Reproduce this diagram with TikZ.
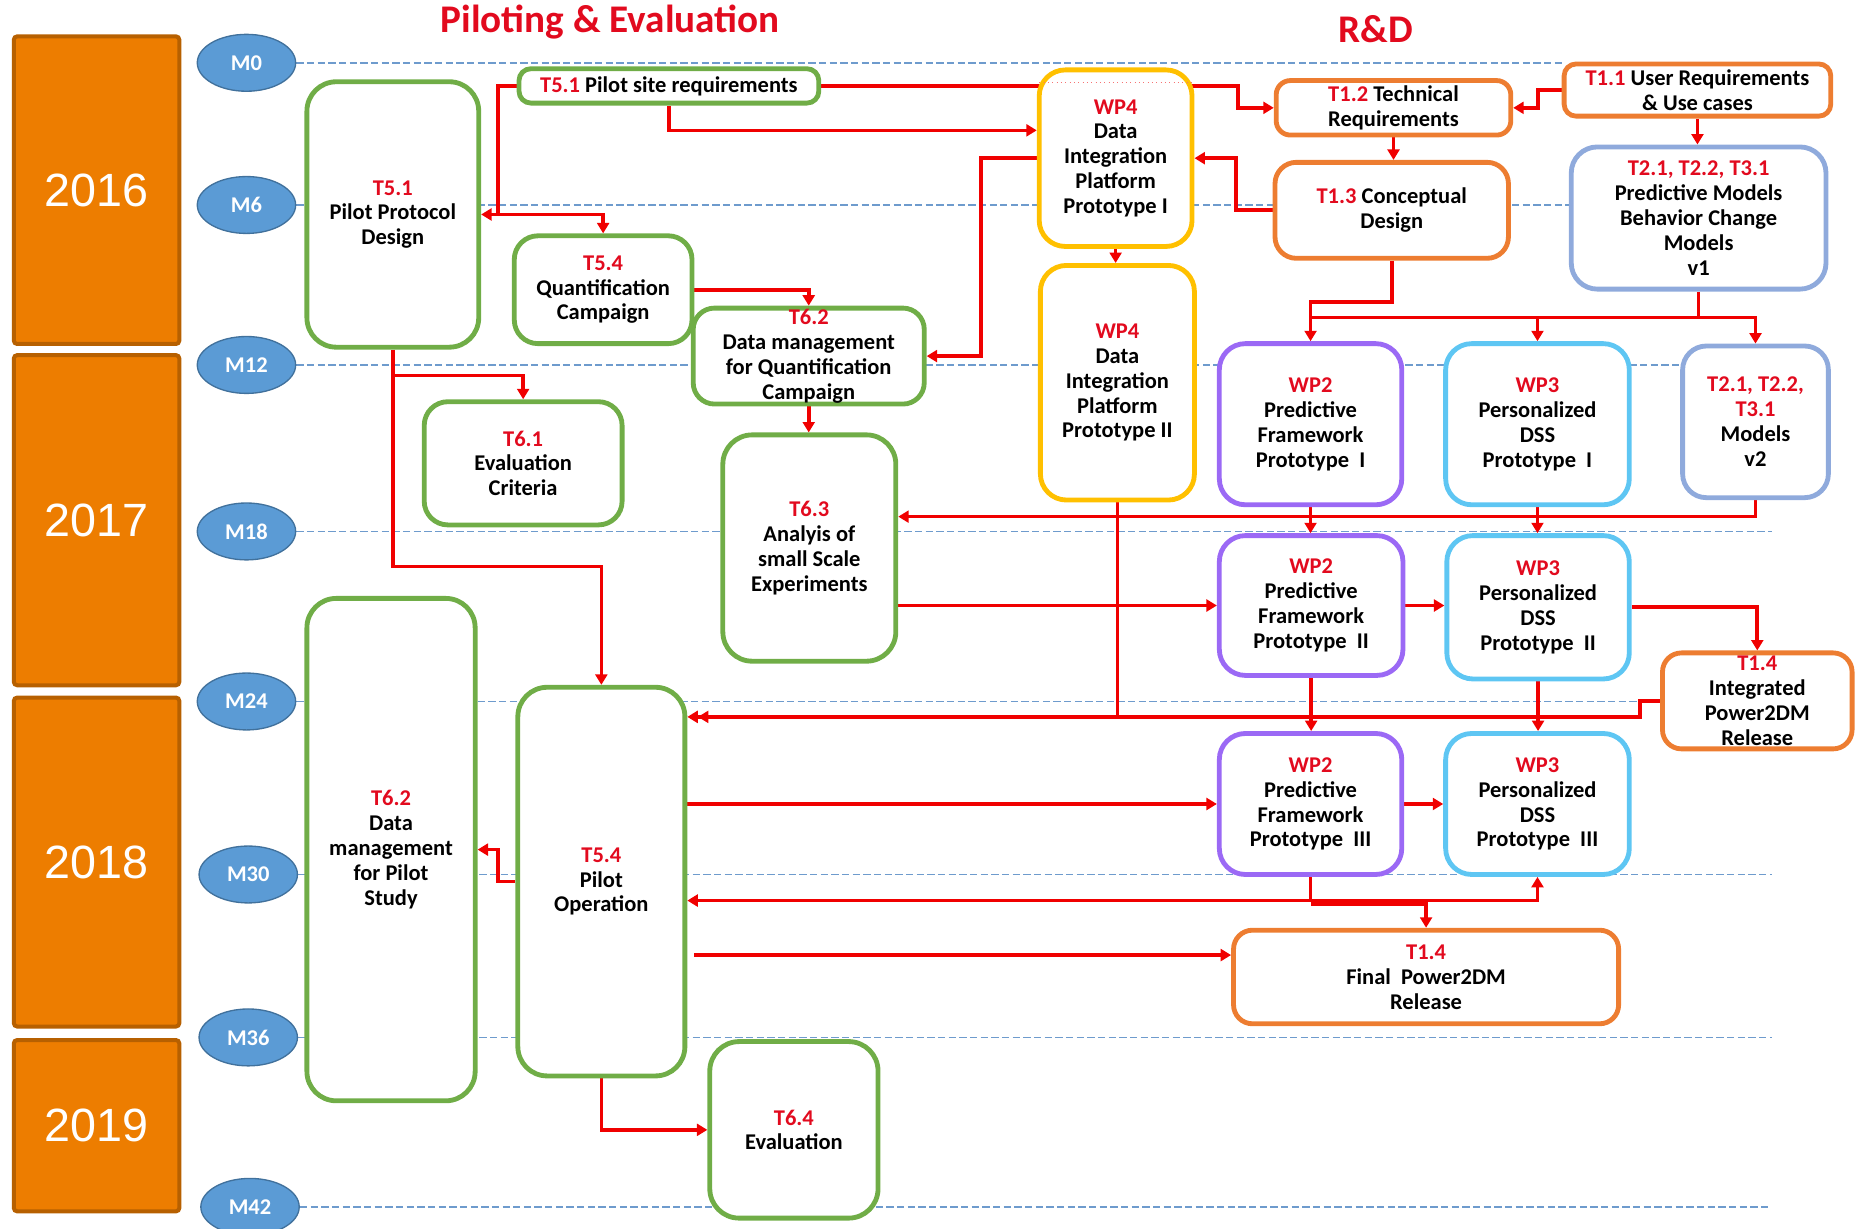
\documentclass[tikz,border=0pt]{standalone}
\usepackage{fontspec}
\setmainfont{Carlito}
\newfontfamily\yearfont{Liberation Sans}
\usetikzlibrary{arrows.meta,shapes.geometric}

\definecolor{tred}{RGB}{226,10,30}
\definecolor{lnred}{RGB}{240,0,0}
\definecolor{cgreen}{RGB}{112,173,71}
\definecolor{corange}{RGB}{237,125,49}
\definecolor{cyellow}{RGB}{255,192,0}
\definecolor{cpurple}{RGB}{155,105,245}
\definecolor{csky}{RGB}{94,198,243}
\definecolor{cslate}{RGB}{143,170,220}
\definecolor{yearfill}{RGB}{237,125,0}
\definecolor{yearedge}{RGB}{183,96,0}
\definecolor{msfill}{RGB}{91,155,213}
\definecolor{msedge}{RGB}{65,113,156}
\definecolor{gridblue}{RGB}{110,155,205}

\pgfdeclarelayer{bg}
\pgfsetlayers{bg,main}

% red task label
\newcommand{\tl}[1]{\textcolor{tred}{#1}}
% rounded task box given by its outer corners: style, name, x1, y1, x2, y2, text
\newcommand{\taskbox}[7]{%
  \node[#1, minimum width={(#5-#3-4)*0.025cm}, minimum height={(#6-#4-4)*0.025cm}]
    (#2) at ({(#3+#5)/2},{(#4+#6)/2}) {#7};}

\tikzset{
  box/.style={draw, fill=white, line width=2.9pt, rounded corners=0.55cm,
    align=center, inner sep=0pt,
    font=\fontsize{13.5pt}{14.9pt}\selectfont\bfseries},
  gbox/.style={box, draw=cgreen},
  obox/.style={box, draw=corange},
  ybox/.style={box, draw=cyellow},
  pbox/.style={box, draw=cpurple},
  sbox/.style={box, draw=csky},
  lbox/.style={box, draw=cslate},
  yr/.style={draw=yearedge, fill=yearfill, line width=2.4pt, rounded corners=2pt,
    minimum width=3.49cm, inner sep=0pt, text=white,
    font=\yearfont\fontsize{28pt}{30pt}\selectfont},
  ms/.style={ellipse, draw=msedge, fill=msfill, line width=0.8pt,
    minimum width=2.075cm, minimum height=1.2cm, inner sep=0pt, text=white,
    font=\fontsize{13.5pt}{14pt}\selectfont\bfseries},
  heading/.style={text=tred, inner sep=0pt,
    font=\fontsize{23.5pt}{26pt}\selectfont\bfseries},
  grid/.style={draw=gridblue, line width=1pt, dash pattern=on 4.4pt off 2pt},
  rline/.style={draw=lnred, line width=2.2pt},
  rarr/.style={rline, -{Triangle[length=0.22cm,width=0.25cm]}},
}

\begin{document}
\begin{tikzpicture}[x=0.025cm, y=-0.025cm]
\useasboundingbox (0,0) rectangle (1568,1037);

% year bands
\node[yr, minimum height={(263-3.4)*0.025cm}] (y16) at (81.5,160.5) {2016};
\node[yr, minimum height={(282-3.4)*0.025cm}] (y17) at (81.5,439) {2017};
\node[yr, minimum height={(281-3.4)*0.025cm}] (y18) at (81.5,727.5) {2018};
\node[yr, minimum height={(148-3.4)*0.025cm}] (y19) at (81.5,950) {2019};

% milestones
\node[ms] (m0)  at (208,53)     {M0};
\node[ms] (m6)  at (208,173)    {M6};
\node[ms] (m12) at (208,308)    {M12};
\node[ms] (m18) at (208,448.5)  {M18};
\node[ms] (m24) at (208,592)    {M24};
\node[ms] (m30) at (209.5,738)  {M30};
\node[ms] (m36) at (209.5,875.5){M36};
\node[ms] (m42) at (211,1018.5) {M42};

% headings
\node[heading] (hpe) at (515,19) {Piloting \& Evaluation};
\node[heading] (hrd) at (1161,25) {R\&D};

% piloting and evaluation tasks
\taskbox{gbox, rounded corners=0.62cm}{ppd}{257}{67}{406}{295}{\tl{T5.1}\\Pilot Protocol\\Design}
\taskbox{gbox, rounded corners=0.25cm}{psr}{436}{56}{693}{89}{\tl{T5.1} Pilot site requirements}
\taskbox{gbox, rounded corners=0.5cm}{qc}{432}{197}{586}{292}{\tl{T5.4}\\Quantification\\Campaign}
\taskbox{gbox, rounded corners=0.45cm}{dmq}{583}{258}{782}{343}{\tl{T6.2}\\Data management\\for Quantification\\Campaign}
\taskbox{gbox, rounded corners=0.5cm}{ec}{356}{337}{527}{445}{\tl{T6.1}\\Evaluation\\Criteria}
\taskbox{gbox, rounded corners=0.62cm}{asse}{608}{365}{758}{560}{\tl{T6.3}\\Analyis of\\small Scale\\Experiments}
\taskbox{gbox, rounded corners=0.62cm}{dmp}{257}{503}{403}{931}{\tl{T6.2}\\Data\\management\\for Pilot\\Study}
\taskbox{gbox, rounded corners=0.62cm}{po}{435}{578}{580}{910}{\tl{T5.4}\\Pilot\\Operation}
\taskbox{gbox, rounded corners=0.62cm}{ev}{597}{877}{743}{1030}{\tl{T6.4}\\Evaluation}

% research and development tasks
\taskbox{ybox}{wp4a}{875}{57}{1008}{210}{\tl{WP4}\\Data\\Integration\\Platform\\Prototype I}
\taskbox{ybox}{wp4b}{876}{222}{1010}{424}{\tl{WP4}\\Data\\Integration\\Platform\\Prototype II}
\taskbox{obox, rounded corners=0.3cm}{tr}{1075}{66}{1277}{116}{\tl{T1.2} Technical\\Requirements}
\taskbox{obox, rounded corners=0.25cm}{ur}{1318}{52}{1547}{100}{\tl{T1.1} User Requirements\\\& Use cases}
\taskbox{obox, rounded corners=0.45cm}{cd}{1074}{135}{1275}{220}{\tl{T1.3} Conceptual\\Design}
\taskbox{lbox}{pm1}{1324}{122}{1543}{246}{\tl{T2.1, T2.2, T3.1}\\Predictive Models\\Behavior Change\\Models\\v1}
\taskbox{pbox}{pf1}{1027}{288}{1185}{428}{\tl{WP2}\\Predictive\\Framework\\Prototype~ I}
\taskbox{sbox}{ds1}{1218}{288}{1377}{428}{\tl{WP3}\\Personalized\\DSS\\Prototype~ I}
\taskbox{lbox, rounded corners=0.5cm}{pm2}{1418}{290}{1545}{422}{\tl{T2.1, T2.2,}\\\tl{T3.1}\\Models\\v2}
\taskbox{pbox}{pf2}{1027}{450}{1186}{572}{\tl{WP2}\\Predictive\\Framework\\Prototype~ II}
\taskbox{sbox}{ds2}{1219}{450}{1377}{575}{\tl{WP3}\\Personalized\\DSS\\Prototype~ II}
\taskbox{obox, rounded corners=0.4cm}{ipr}{1401}{549}{1565}{634}{\tl{T1.4}\\Integrated\\Power2DM\\Release}
\taskbox{pbox}{pf3}{1027}{617}{1185}{740}{\tl{WP2}\\Predictive\\Framework\\Prototype~ III}
\taskbox{sbox}{ds3}{1218}{617}{1377}{740}{\tl{WP3}\\Personalized\\DSS\\Prototype~ III}
\taskbox{obox, rounded corners=0.4cm}{fpr}{1039}{783}{1368}{866}{\tl{T1.4}\\Final~ Power2DM\\Release}

% routing points
\coordinate (gx)   at (1495,0);
\coordinate (k0)   at (0,70);
\coordinate (k1)   at (420,181);
\coordinate (k2)   at (1045,91);
\coordinate (k3)   at (0,110);
\coordinate (k4)   at (828,300.5);
\coordinate (k5)   at (1043,133.5);
\coordinate (k6)   at (1298,91);
\coordinate (k10)  at (1106,255);
\coordinate (k11)  at (1106,268);
\coordinate (k12)  at (0,436);
\coordinate (k16a) at (1384,591.5);
\coordinate (k16)  at (0,605);
\coordinate (k16b) at (589,605);
\coordinate (k19)  at (1106,760);
\coordinate (k19b) at (1106,763);
\coordinate (k20)  at (586,806);
\coordinate (k21)  at (420,717);
\coordinate (k22)  at (507.5,478);
\coordinate (k22b) at (331.5,317);

\begin{pgfonlayer}{bg}
  % milestone guide lines
  \draw[grid] (m0.east) -- (m0.east -| ur.west);
  \foreach \m in {m6,m12,m18,m24,m30,m36,m42}
    \draw[grid] (\m.east) -- (\m.east -| gx);

  % dependencies
  \draw[rline] (psr.west) -| (k1);
  \draw[rarr] (k1) -- (ppd.east |- k1);
  \draw[rarr] (k1) -| (qc.north);
  \draw[rarr] (psr.east) -| (k2) -- (tr.west);
  \draw[rarr] (psr.south) |- (wp4a.west |- k3);
  \draw[rarr] (wp4a.west) -| (k4) -- (dmq.east);
  \draw[rarr] (cd.west) -| (k5) -- (wp4a.east);
  \draw[rarr] (ur.west) -| (k6) -- (tr.east);
  \draw[rarr] (ur.south) -- (ur.south |- pm1.north);
  \draw[rarr] (tr.south) -- (tr.south |- cd.north);
  \draw[rarr] (wp4a.south) -- (wp4a.south |- wp4b.north);
  \draw[rarr] (cd.south) |- (k10) -- (pf1.north);
  \draw[rline] (pm1.south) -- (pm1.south |- k11);
  \draw[rarr] (k11) -| (pm2.north);
  \draw[rarr] (ds1.north |- k11) -- (ds1.north);
  \draw[rarr] (pm2.south) |- (asse.east |- k12);
  \draw[rarr] (pf1.south) -- (pf1.south |- pf2.north);
  \draw[rarr] (ds1.south) -- (ds1.south |- ds2.north);
  \draw[rarr] (asse.east |- pf2.west) -- (pf2.west);
  \draw[rarr] (pf2.east) -- (pf2.east -| ds2.west);
  \draw[rarr] (ds2.east) -| (ipr.north);
  \draw[rarr] (ipr.west) -- (k16a) |- (po.east |- k16);
  \draw[rarr] (wp4b.south) |- (k16b);
  \draw[rarr] (pf2.south) -- (pf2.south |- pf3.north);
  \draw[rarr] (ds2.south) -- (ds2.south |- ds3.north);
  \draw[rarr] (po.east |- pf3.west) -- (pf3.west);
  \draw[rarr] (pf3.east) -- (ds3.west);
  \draw[rarr] (pf3.south) |- (po.east |- k19);
  \draw[rarr] (k19) -| (ds3.south);
  \draw[rarr] (k19b) -| (fpr.north);
  \draw[rarr] (k20) -- (fpr.west |- k20);
  \draw[rarr] (po.west) -| (k21) -- (dmp.east);
  \draw[rarr] (ppd.south) |- (k22) -- (po.north);
  \draw[rarr] (k22b) -| (ec.north);
  \draw[rarr] (po.south) |- (ev.west);
  \draw[rarr] (qc.east) -| (dmq.north);
  \draw[rarr] (dmq.south) -- (dmq.south |- asse.north);
\end{pgfonlayer}

% faint trace of the requirements link behind the platform box
\draw[lnred!55, dotted, line width=0.6pt] ([xshift=1.5pt]wp4a.west |- k0) -- ([xshift=-1.5pt]wp4a.east |- k0);
\end{tikzpicture}
\end{document}
